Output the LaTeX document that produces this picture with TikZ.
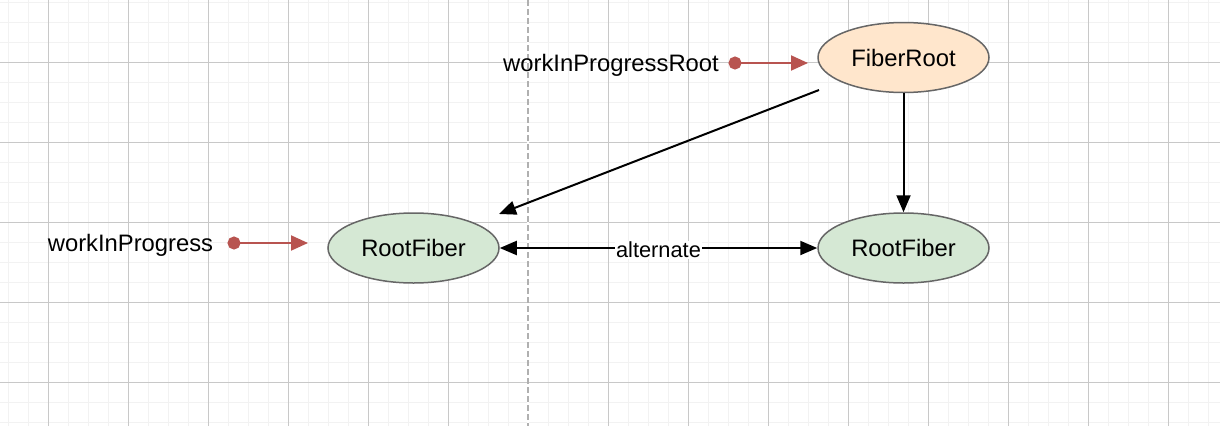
\documentclass[tikz,border=0pt]{standalone}
\usepackage{fontspec}
\setmainfont{Liberation Sans}
\usetikzlibrary{shapes.geometric,arrows.meta}
\definecolor{gridminor}{HTML}{F2F2F2}
\definecolor{gridmajor}{HTML}{C8C8C8}
\definecolor{dashgray}{HTML}{B0B0B0}
\definecolor{peach}{HTML}{FFE6CC}
\definecolor{sage}{HTML}{D5E8D4}
\definecolor{edgegray}{HTML}{666666}
\definecolor{ptrred}{HTML}{B85450}
\tikzset{
  fiber/.style={ellipse, draw=edgegray, line width=1.5pt, minimum width=171pt, minimum height=70pt, inner sep=0pt, text height=17pt, text depth=0pt, font=\fontsize{23.8}{28}\selectfont},
  lbl/.style={anchor=base, inner sep=0pt, font=\fontsize{23.8}{28}\selectfont},
  edgelbl/.style={fill=white, inner sep=1pt, yshift=-2pt, font=\fontsize{21.8}{26}\selectfont},
  conn/.style={line width=2pt, -{Triangle[length=17pt,width=14pt]}},
  ptr/.style={draw=ptrred, line width=2pt, {Circle[length=13pt,width=13pt,fill=ptrred]}-{Triangle[length=17pt,width=15pt,fill=ptrred]}, color=ptrred}
}
\begin{document}
\begin{tikzpicture}[x=1pt,y=-1pt]
\useasboundingbox (0,0) rectangle (1220,426);
\fill[white] (0,0) rectangle (1220,426);
% minor grid
\foreach \i in {0,...,60} { \draw[gridminor, line width=1pt] ({8+20*\i},0) -- ({8+20*\i},426); }
\foreach \j in {0,...,21} { \draw[gridminor, line width=1pt] (0,{2+20*\j}) -- (1220,{2+20*\j}); }
% major grid
\foreach \i in {0,...,14} { \draw[gridmajor, line width=1pt] ({48+80*\i},0) -- ({48+80*\i},426); }
\foreach \j in {0,...,4} { \draw[gridmajor, line width=1pt] (0,{62+80*\j}) -- (1220,{62+80*\j}); }
% dashed divider
\fill[white] (527,0) rectangle (529,426);
\draw[dashgray, line width=1.2pt, dash pattern=on 6pt off 3pt] (528,0) -- (528,426);

% nodes
\node[fiber, fill=peach] (froot) at (903.5,57.5) {FiberRoot};
\node[fiber, fill=sage] (rfl) at (413.5,248) {RootFiber};
\node[fiber, fill=sage] (rfr) at (903.5,248) {RootFiber};

\node[lbl] (wipr) at (611,71) {workInProgressRoot};
\node[lbl] (wip) at (130.5,251.7) {workInProgress};

% pointers
\coordinate (wiprdot) at (728.5,63);
\coordinate (wiprtip) at (808,63);
\draw[ptr] (wiprdot) -- (wiprtip);
\coordinate (wipdot) at (227.5,243);
\coordinate (wiptip) at (308,243);
\draw[ptr] (wipdot) -- (wiptip);

% connectors
\coordinate (diagstart) at (819,90);
\coordinate (diagend) at (499,214);
\draw[conn] (diagstart) -- (diagend);
\draw[conn] (froot.south) -- (rfr.north);
\draw[line width=2pt, {Triangle[length=17pt,width=14pt]}-{Triangle[length=17pt,width=14pt]}] (rfl.east) -- node[edgelbl] (alt) {alternate} (rfr.west);
\end{tikzpicture}
\end{document}
